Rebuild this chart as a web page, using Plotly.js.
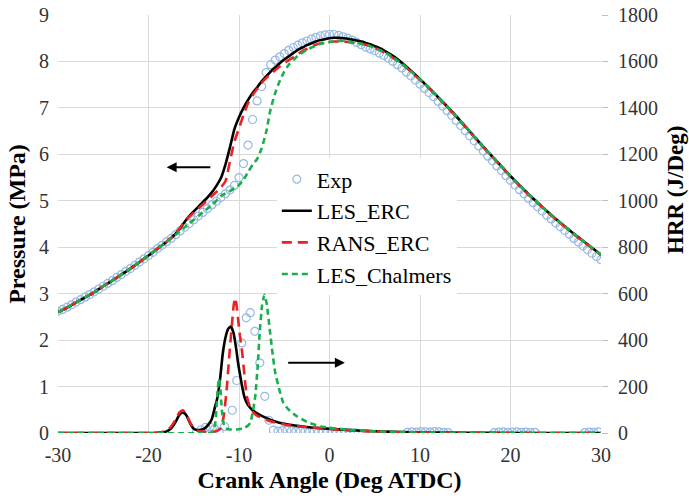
<!DOCTYPE html>
<html>
<head>
<meta charset="utf-8">
<script src="https://cdn.plot.ly/plotly-3.0.1.min.js"></script>
<style>
html,body{margin:0;padding:0;background:#fff;}
#chart{width:689px;height:498px;}
</style>
</head>
<body>
<div id="chart"></div>
<script>
// ---------- Data ----------
const angleExpP = [-30,-29.5,-29,-28.5,-28,-27.5,-27,-26.5,-26,-25.5,-25,-24.5,-24,-23.5,-23,-22.5,-22,-21.5,-21,-20.5,
  -20,-19.5,-19,-18.5,-18,-17.5,-17,-16.5,-16,-15.5,-15,-14.5,-14,-13.5,-13,-12.5,-12,-11.5,-11,-10.5,
  -10,-9.5,-9,-8.5,-8,-7.5,-7,-6.5,-6,-5.5,-5,-4.5,-4,-3.5,-3,-2.5,-2,-1.5,-1,-0.5,
  0,0.5,1,1.5,2,2.5,3,3.5,4,4.5,5,5.5,6,6.5,7,7.5,8,8.5,9,9.5,
  10,10.5,11,11.5,12,12.5,13,13.5,14,14.5,15,15.5,16,16.5,17,17.5,18,18.5,19,19.5,
  20,20.5,21,21.5,22,22.5,23,23.5,24,24.5,25,25.5,26,26.5,27,27.5,28,28.5,29,29.5,30];
const expPressure = [2.62,2.66,2.71,2.76,2.82,2.87,2.93,2.98,3.04,3.10,3.16,3.22,3.28,3.35,3.41,3.48,3.54,3.61,3.68,3.75,
  3.82,3.89,3.97,4.04,4.12,4.19,4.27,4.35,4.43,4.51,4.59,4.67,4.75,4.83,4.91,4.99,5.07,5.15,5.23,5.33,
  5.50,5.80,6.20,6.75,7.15,7.46,7.76,7.93,8.03,8.10,8.17,8.24,8.30,8.35,8.40,8.44,8.48,8.52,8.55,8.57,
  8.58,8.58,8.56,8.53,8.50,8.46,8.41,8.36,8.31,8.27,8.23,8.18,8.13,8.07,8.00,7.93,7.86,7.77,7.69,7.60,
  7.51,7.42,7.33,7.24,7.14,7.04,6.94,6.84,6.73,6.62,6.51,6.40,6.29,6.18,6.07,5.96,5.86,5.75,5.65,5.54,
  5.44,5.34,5.24,5.15,5.05,4.96,4.87,4.78,4.69,4.61,4.52,4.44,4.36,4.28,4.19,4.11,4.03,3.95,3.87,3.80,3.73];

const angleSim = [-30,-29,-28,-27,-26,-25,-24,-23,-22,-21,-20,-19,-18,
  -17.5,-17,-16.5,-16,-15.5,-15,-14.5,-14,-13.5,-13,-12.5,-12,-11.5,-11,-10.5,-10,-9.5,-9,-8.5,-8,-7.5,-7,
  -6.5,-6,-5.5,-5,-4.5,-4,-3.5,-3,-2.5,-2,-1.5,-1,-0.5,0,0.5,1,1.5,2,2.5,3,3.5,4,4.5,5,5.5,6,6.5,7,7.5,8,
  9,10,11,12,13,14,15,16,17,18,19,20,21,22,23,24,25,26,27,28,29,30];
const lesErcPressure = [2.60,2.70,2.81,2.92,3.03,3.16,3.28,3.41,3.54,3.68,3.82,3.97,4.12,
  4.20,4.29,4.41,4.55,4.67,4.77,4.87,4.97,5.07,5.18,5.32,5.49,5.78,6.15,6.55,6.80,7.00,7.17,7.32,7.44,7.57,7.68,
  7.78,7.87,7.96,8.04,8.11,8.18,8.25,8.30,8.35,8.39,8.43,8.46,8.48,8.50,8.51,8.51,8.50,8.49,8.47,8.45,8.43,8.40,8.37,8.33,8.29,8.24,8.18,8.12,8.05,7.97,
  7.80,7.62,7.43,7.23,7.03,6.82,6.60,6.38,6.16,5.95,5.74,5.53,5.33,5.14,4.96,4.78,4.61,4.45,4.29,4.14,3.99,3.84];
const ransErcPressure = [2.60,2.70,2.81,2.92,3.03,3.16,3.28,3.41,3.54,3.68,3.82,3.97,4.12,
  4.20,4.30,4.42,4.56,4.66,4.74,4.83,4.92,5.01,5.10,5.19,5.29,5.42,5.85,6.28,6.56,6.85,7.10,7.27,7.41,7.54,7.64,
  7.73,7.81,7.89,7.96,8.03,8.09,8.16,8.22,8.27,8.32,8.36,8.39,8.41,8.42,8.43,8.43,8.43,8.42,8.41,8.40,8.38,8.36,8.33,8.29,8.25,8.20,8.14,8.08,8.01,7.94,
  7.78,7.60,7.42,7.22,7.02,6.81,6.59,6.37,6.15,5.94,5.73,5.52,5.32,5.13,4.95,4.77,4.60,4.44,4.28,4.13,3.98,3.83];
const lesChalmersPressure = [2.60,2.70,2.81,2.92,3.03,3.16,3.28,3.41,3.54,3.68,3.82,3.97,4.12,
  4.19,4.27,4.35,4.43,4.51,4.59,4.67,4.75,4.83,4.91,5.00,5.10,5.16,5.21,5.27,5.34,5.45,5.62,5.77,5.90,6.13,6.48,
  6.98,7.32,7.58,7.78,7.93,8.03,8.12,8.19,8.25,8.30,8.34,8.38,8.40,8.42,8.43,8.44,8.44,8.43,8.42,8.40,8.38,8.36,8.33,8.29,8.25,8.20,8.15,8.09,8.02,7.95,
  7.79,7.61,7.43,7.23,7.03,6.82,6.60,6.38,6.16,5.95,5.74,5.53,5.33,5.14,4.96,4.78,4.61,4.45,4.29,4.14,3.99,3.84];

const angleExpHrr = [-14.7,-14.2,-13.7,-13.2,-12.7,-12.2,-11.6,-10.75,-10.25,-9.7,-9.2,-8.75,-8.25,-7.7,-7.15,-6.7,
  -6.2,-5.7,-5.2,-4.7,-4.2,-3.7,-3.2,-2.7,-2.2,-1.7,-1.2,-0.7,-0.2,0.3,0.8,1.3,1.8,2.3,2.8,
  8.6,9.1,9.6,10.1,10.6,11.1,11.6,12.1,12.6,13.1,
  18.2,18.7,19.2,19.7,20.2,20.7,21.2,21.7,22.2,22.7,
  28.2,28.7,29.2,29.7];
const expHrr = [2,14,24,26,18,6,28,98,226,388,496,518,438,302,158,55,
  12,8,10,12,9,7,9,8,6,7,5,6,4,5,3,4,2,2,1,
  3,5,4,6,5,4,6,5,3,2,
  2,4,5,3,4,5,3,4,2,3,
  2,4,3,5];

const angleLesErcHrr = [-30,-20,-19,-18.5,-18,-17.5,-17,-16.6,-16.2,-15.8,-15.4,-15,-14.6,-14.2,-13.8,-13.4,-13,-12.7,-12.4,-12.1,
  -11.8,-11.5,-11.2,-10.9,-10.6,-10.3,-10.1,-9.7,-9.4,-9,-8.5,-8,-7,-6,-5,-4,-3,-2,-1,0,2,4,6,8,10,15,20,30];
const lesErcHrr = [0,0,1,3,7,20,48,78,90,75,42,18,12,14,20,35,60,105,150,230,
  340,410,448,460,430,360,300,210,155,120,98,85,65,50,40,33,28,24,21,18,13,9,6,4,2,1,0,0];

const angleRansErcHrr = [-30,-20,-19,-18.5,-18,-17.5,-17,-16.6,-16.2,-15.8,-15.4,-15,-14.6,-14,-13,-12.5,-12,-11.7,-11.4,-11.1,
  -10.8,-10.6,-10.45,-10.3,-10.1,-9.9,-9.7,-9.4,-9.15,-8.8,-8.4,-8,-7,-6,-5,-4,-3,-2,-1,0,2,4,6,8,10,15,20,30];
const ransErcHrr = [0,0,1,4,10,28,58,88,98,80,45,22,10,6,5,8,20,70,170,320,
  460,545,582,560,490,420,365,250,160,115,88,75,57,45,37,31,27,23,20,17,12,8,5,3,2,1,0,0];

const angleLesChalmersHrr = [-30,-13.5,-13,-12.7,-12.5,-12.35,-12.2,-12.05,-11.9,-11.7,-11.5,-11,-10,-9.5,-9,-8.75,-8.5,-8.2,-7.95,-7.7,
  -7.45,-7.2,-6.95,-6.6,-6.3,-6,-5.5,-5.1,-4.5,-3.6,-2.5,-1,0,2,4,6,8,10,15,20,30];
const lesChalmersHrr = [0,0,3,20,100,190,235,190,100,40,20,15,16,20,32,45,85,160,280,440,
  550,595,560,445,345,260,180,130,100,72,48,28,22,14,9,6,4,2,1,0,0];

const xTickVals = [-30,-20,-10,0,10,20,30];
const xTickText = ['-30','-20','-10','0','10','20','30'];
const yTickVals = [0,1,2,3,4,5,6,7,8,9];
const y2TickVals = [0,200,400,600,800,1000,1200,1400,1600,1800];

// ---------- Styles ----------
const SERIF = 'Times New Roman, Liberation Serif, serif';
const cExp = 'rgb(150,185,225)';
const cLes = '#000000';
const cRans = 'rgb(232,35,35)';
const cChal = 'rgb(25,175,75)';
const lw = 2.6;

const traces = [
  {x: angleExpP, y: expPressure, name: 'Exp', mode: 'markers', type: 'scatter', legendgroup: 'exp',
   marker: {symbol: 'circle-open', size: 8, color: cExp, line: {width: 1.2, color: cExp}}},
  {x: angleSim, y: lesErcPressure, name: 'LES_ERC', mode: 'lines', type: 'scatter', legendgroup: 'les',
   line: {color: cLes, width: lw, shape: 'spline', smoothing: 0.6}},
  {x: angleSim, y: ransErcPressure, name: 'RANS_ERC', mode: 'lines', type: 'scatter', legendgroup: 'rans',
   line: {color: cRans, width: lw, dash: '10px,6px', shape: 'spline', smoothing: 0.6}},
  {x: angleSim, y: lesChalmersPressure, name: 'LES_Chalmers', mode: 'lines', type: 'scatter', legendgroup: 'chal',
   line: {color: cChal, width: lw, dash: '6px,4px', shape: 'spline', smoothing: 0.6}},
  {x: angleExpHrr, y: expHrr, name: 'Exp', mode: 'markers', type: 'scatter', yaxis: 'y2', legendgroup: 'exp', showlegend: false,
   marker: {symbol: 'circle-open', size: 8, color: cExp, line: {width: 1.2, color: cExp}}},
  {x: angleLesErcHrr, y: lesErcHrr, name: 'LES_ERC', mode: 'lines', type: 'scatter', yaxis: 'y2', legendgroup: 'les', showlegend: false,
   line: {color: cLes, width: lw, shape: 'spline', smoothing: 0.4}},
  {x: angleRansErcHrr, y: ransErcHrr, name: 'RANS_ERC', mode: 'lines', type: 'scatter', yaxis: 'y2', legendgroup: 'rans', showlegend: false,
   line: {color: cRans, width: lw, dash: '10px,6px', shape: 'spline', smoothing: 0.4}},
  {x: angleLesChalmersHrr, y: lesChalmersHrr, name: 'LES_Chalmers', mode: 'lines', type: 'scatter', yaxis: 'y2', legendgroup: 'chal', showlegend: false,
   line: {color: cChal, width: lw, dash: '6px,4px', shape: 'spline', smoothing: 0.4}}
];

const gridC = '#d9d9d9';

const layout = {
  width: 689, height: 498,
  margin: {l: 58, r: 88, t: 15, b: 65, pad: 0},
  paper_bgcolor: '#ffffff', plot_bgcolor: '#ffffff',
  font: {family: SERIF, size: 20, color: '#333333'},
  showlegend: true,
  legend: {x: 0.403, y: 0.657, xanchor: 'left', yanchor: 'top', bgcolor: '#ffffff', borderwidth: 0,
           font: {size: 22, color: '#000000'}, itemwidth: 30, tracegroupgap: 0},
  xaxis: {range: [-30, 30], tickvals: xTickVals, ticktext: xTickText, showgrid: true, gridcolor: gridC, gridwidth: 1,
          zeroline: false, showline: false, ticks: '', ticklabelstandoff: 8, automargin: false,
          title: {text: '<b>Crank Angle (Deg ATDC)</b>', font: {size: 24, color: '#000000'}, standoff: 6}},
  yaxis: {range: [0, 9], tickvals: yTickVals, showgrid: true, gridcolor: gridC, gridwidth: 1,
          zeroline: false, showline: false, ticks: '', ticklabelstandoff: 8, automargin: false,
          title: {text: '<b>Pressure (MPa)</b>', font: {size: 24, color: '#000000'}, standoff: 6}},
  yaxis2: {range: [0, 1800], tickvals: y2TickVals, overlaying: 'y', side: 'right', showgrid: false,
           zeroline: false, showline: false, ticks: 'outside', ticklen: 6, tickcolor: '#bfbfbf', tickwidth: 1,
           ticklabelstandoff: 6, automargin: false},
  annotations: [
    {xref: 'paper', yref: 'paper', x: 1.136, y: 0.581, xanchor: 'center', yanchor: 'middle',
     text: '<b>HRR (J/Deg)</b>', textangle: -90, showarrow: false, font: {size: 23, color: '#000000'}},
    {xref: 'x', yref: 'y', x: -18, y: 5.72, ax: -13, ay: 5.72, axref: 'x', ayref: 'y', text: '',
     showarrow: true, arrowhead: 2, arrowsize: 1, arrowwidth: 2, arrowcolor: '#000'},
    {xref: 'x', yref: 'y', x: 1.7, y: 1.51, ax: -4.73, ay: 1.51, axref: 'x', ayref: 'y', text: '',
     showarrow: true, arrowhead: 2, arrowsize: 1, arrowwidth: 2, arrowcolor: '#000'}
  ]
};

Plotly.newPlot('chart', traces, layout, {displayModeBar: false, staticPlot: true});
</script>
</body>
</html>
